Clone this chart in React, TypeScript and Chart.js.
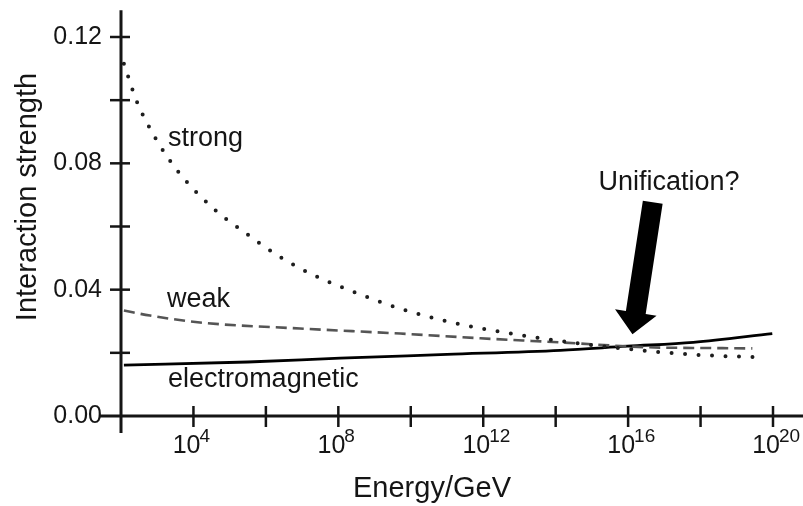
import React, { useEffect, useRef } from 'react';
import { Chart, registerables } from 'chart.js';

Chart.register(...registerables);

// ---- Data (log10 of energy in GeV, coupling strength) ----
const strongLogE = [2.08, 2.44, 2.94, 3.55, 4.54, 5.43, 6.34, 7.3, 8.33, 9.71, 11.14, 12.55, 14.02, 15.84, 17.69, 19.54];
const strongAlpha = [0.1115, 0.0995, 0.0882, 0.0778, 0.0658, 0.058, 0.0507, 0.0447, 0.0397, 0.034, 0.0296, 0.0265, 0.0239, 0.0214, 0.0195, 0.0186];

const weakLogE = [2.08, 2.8, 4.18, 6.94, 9.71, 11.92, 14.13, 16.44, 18.4, 19.43];
const weakAlpha = [0.0334, 0.0318, 0.0296, 0.0277, 0.0261, 0.0246, 0.0233, 0.0218, 0.0215, 0.0214];

const emLogE = [2.08, 5.5, 8.05, 11.0, 14.13, 15.98, 17.8, 19.98];
const emAlpha = [0.0161, 0.0171, 0.0183, 0.0195, 0.0208, 0.0221, 0.0233, 0.0261];

// ---- Axes ----
const xMinExp = 2;
const xMaxExp = 20;
const xTickExps = [4, 8, 12, 16, 20];
const xTickBase = '10';
const xTickExpLabels = ['4', '8', '12', '16', '20'];
const xMarkExps = [4, 6, 8, 10, 12, 14, 16, 18, 20];
const yTickValues = [0, 0.04, 0.08, 0.12];
const yTickLabels = ['0.00', '0.04', '0.08', '0.12'];
const yMarkValues = [0.02, 0.04, 0.06, 0.08, 0.1, 0.12];
const yAxisTop = 0.1285;
const xTitle = 'Energy/GeV';
const yTitle = 'Interaction strength';

// ---- Annotations (log10 E, value) ----
const curveLabels = ['strong', 'weak', 'electromagnetic'];
const curveLabelExp = [3.3, 3.27, 3.3];
const curveLabelVal = [0.0856, 0.0345, 0.0092];
const noteText = 'Unification?';
const noteExp = 15.18;
const noteVal = 0.0716;
const arrowTipExp = 16.12;
const arrowTipVal = 0.0259;
const arrowTailExp = 16.68;
const arrowTailVal = 0.0677;

const FONT = '"Liberation Sans", Arial, Helvetica, sans-serif';
const INK = '#151515';

const pts = (logE: number[], vals: number[]) => logE.map((e, i) => ({ x: Math.pow(10, e), y: vals[i] }));

const decorPlugin = {
  id: 'decor',
  afterDraw(chart: any) {
    const ctx = chart.ctx;
    const xs = chart.scales.x;
    const ys = chart.scales.y;
    const px = (e: number) => xs.getPixelForValue(Math.pow(10, e));
    const py = (v: number) => ys.getPixelForValue(v);
    const x0 = px(xMinExp);
    const y0 = py(0);
    ctx.save();
    ctx.strokeStyle = INK;
    ctx.lineCap = 'butt';
    ctx.lineWidth = 3;
    ctx.beginPath();
    ctx.moveTo(x0, py(yAxisTop));
    ctx.lineTo(x0, y0 + 17);
    ctx.stroke();
    ctx.beginPath();
    ctx.moveTo(x0 - 21, y0);
    ctx.lineTo(chart.width, y0);
    ctx.stroke();
    ctx.lineWidth = 2.5;
    yMarkValues.forEach((v) => {
      const y = py(v);
      ctx.beginPath();
      ctx.moveTo(x0 - 11, y);
      ctx.lineTo(x0 + 9, y);
      ctx.stroke();
    });
    xMarkExps.forEach((e) => {
      const x = px(e);
      ctx.beginPath();
      ctx.moveTo(x, y0 - 10);
      ctx.lineTo(x, y0 + 11);
      ctx.stroke();
    });

    ctx.fillStyle = INK;
    // x tick labels: 10 with superscript exponent
    xTickExps.forEach((e, i) => {
      const x = px(e);
      ctx.font = `25px ${FONT}`;
      ctx.textAlign = 'right';
      ctx.textBaseline = 'alphabetic';
      ctx.fillText(xTickBase, x + 7, y0 + 37);
      ctx.font = `19px ${FONT}`;
      ctx.textAlign = 'left';
      ctx.fillText(xTickExpLabels[i], x + 6, y0 + 26);
    });

    // titles
    ctx.font = `29px ${FONT}`;
    ctx.textAlign = 'center';
    ctx.textBaseline = 'alphabetic';
    const ca = chart.chartArea;
    ctx.fillText(xTitle, ca.left + 311, ca.bottom + 81);
    ctx.save();
    ctx.translate(ca.left - 85.5, 197);
    ctx.rotate(-Math.PI / 2);
    ctx.fillText(yTitle, 0, 0);
    ctx.restore();

    // curve labels
    ctx.font = `27px ${FONT}`;
    ctx.textAlign = 'left';
    curveLabels.forEach((t, i) => {
      ctx.fillText(t, px(curveLabelExp[i]), py(curveLabelVal[i]));
    });
    ctx.fillText(noteText, px(noteExp), py(noteVal));

    // arrow
    const tx = px(arrowTipExp), ty = py(arrowTipVal);
    const ax = px(arrowTailExp), ay = py(arrowTailVal);
    const dx = tx - ax, dy = ty - ay;
    const len = Math.hypot(dx, dy);
    const ux = dx / len, uy = dy / len;
    const nx = -uy, ny = ux;
    const headLen = 22, hw = 10, hh = 21;
    const bx = tx - ux * headLen, by = ty - uy * headLen;
    ctx.fillStyle = '#000';
    ctx.beginPath();
    ctx.moveTo(ax + nx * hw, ay + ny * hw);
    ctx.lineTo(bx + nx * hw, by + ny * hw);
    ctx.lineTo(bx + nx * hh, by + ny * hh);
    ctx.lineTo(tx, ty);
    ctx.lineTo(bx - nx * hh, by - ny * hh);
    ctx.lineTo(bx - nx * hw, by - ny * hw);
    ctx.lineTo(ax - nx * hw, ay - ny * hw);
    ctx.closePath();
    ctx.fill();
    ctx.restore();
  },
};

export default function App() {
  const ref = useRef<HTMLCanvasElement | null>(null);
  useEffect(() => {
    if (!ref.current) return;
    const chart = new Chart(ref.current, {
      type: 'line',
      data: {
        datasets: [
          {
            label: 'strong',
            data: pts(strongLogE, strongAlpha),
            borderColor: '#1e1e1e',
            borderWidth: 4,
            borderDash: [0, 13.5],
            borderCapStyle: 'round',
            pointRadius: 0,
            cubicInterpolationMode: 'monotone',
            fill: false,
          },
          {
            label: 'weak',
            data: pts(weakLogE, weakAlpha),
            borderColor: '#555555',
            borderWidth: 2.6,
            borderDash: [11, 6],
            pointRadius: 0,
            cubicInterpolationMode: 'monotone',
            fill: false,
          },
          {
            label: 'electromagnetic',
            data: pts(emLogE, emAlpha),
            borderColor: '#000000',
            borderWidth: 2.8,
            pointRadius: 0,
            cubicInterpolationMode: 'monotone',
            fill: false,
          },
        ],
      },
      options: {
        animation: false,
        responsive: false,
        devicePixelRatio: 1,
        layout: { padding: { top: 37, right: 30, bottom: 0, left: 0 } },
        plugins: { legend: { display: false }, tooltip: { enabled: false } },
        scales: {
          x: {
            type: 'logarithmic',
            min: Math.pow(10, xMinExp),
            max: Math.pow(10, xMaxExp),
            grid: { display: false, drawTicks: false },
            border: { display: false },
            afterBuildTicks: (scale: any) => {
              scale.ticks = xTickExps.map((e) => ({ value: Math.pow(10, e) }));
            },
            afterFit: (scale: any) => {
              scale.height = 90;
            },
            ticks: { display: false },
          },
          y: {
            type: 'linear',
            min: 0,
            max: 0.12,
            grid: { display: false, drawTicks: false },
            border: { display: false },
            afterBuildTicks: (scale: any) => {
              scale.ticks = yTickValues.map((v) => ({ value: v }));
            },
            afterFit: (scale: any) => {
              scale.width = 121;
            },
            ticks: {
              padding: 19,
              color: INK,
              font: { family: FONT, size: 25 },
              callback: (value: any) => {
                const i = yTickValues.findIndex((v) => Math.abs(v - Number(value)) < 1e-9);
                return i >= 0 ? yTickLabels[i] : '';
              },
            },
          },
        },
      },
      plugins: [decorPlugin],
    } as any);
    return () => chart.destroy();
  }, []);

  return (
    <div style={{ position: 'fixed', left: 0, top: 0, width: 803, height: 506, overflow: 'hidden', background: '#fff' }}>
      <canvas ref={ref} width={803} height={506} style={{ display: 'block', width: 803, height: 506 }} />
    </div>
  );
}
